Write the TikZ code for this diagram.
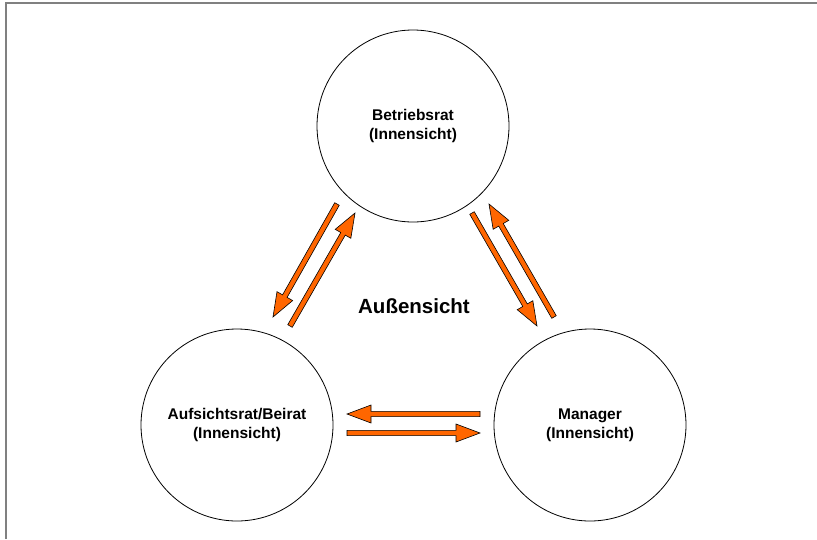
\documentclass[tikz,border=0pt]{standalone}
\usepackage{fontspec}
\setmainfont{Liberation Sans}
\usetikzlibrary{calc}
\definecolor{arroworange}{RGB}{255,102,0}
\newcommand\blockarrow[3]{%
  \coordinate (#1h) at ($(#3)!24pt!(#2)$);
  \filldraw[barrow]
    ($(#2)!2.6pt!90:(#3)$) -- ($(#1h)!2.6pt!90:(#3)$) -- ($(#1h)!9pt!90:(#3)$) --
    (#3) -- ($(#1h)!9pt!-90:(#3)$) -- ($(#1h)!2.6pt!-90:(#3)$) --
    ($(#2)!2.6pt!-90:(#3)$) -- cycle;}
\begin{document}
\begin{tikzpicture}[x=1pt,y=-1pt,
  circ/.style={circle, draw=black, line width=0.8pt, fill=white, minimum size=192pt,
    inner sep=0pt, align=center, font=\fontsize{15.5}{19}\selectfont\bfseries},
  barrow/.style={fill=arroworange, draw=black, line width=0.6pt, line join=miter},
  frameline/.style={draw=gray, line width=1.3pt}]
\useasboundingbox (0,0) rectangle (817,539);
\draw[frameline] (6,539) -- (6,3) -- (817,3);

\node[circ] (br) at (413,126) {Betriebsrat\\(Innensicht)};
\node[circ] (ar) at (237,425) {Aufsichtsrat/Beirat\\(Innensicht)};
\node[circ] (mg) at (590,425) {Manager\\(Innensicht)};
\node[font=\fontsize{20.5}{24}\selectfont\bfseries] (au) at (414,306) {Außensicht};

\coordinate (a1s) at (337,204); \coordinate (a1e) at (273,317);
\coordinate (a2s) at (290,326); \coordinate (a2e) at (355,213);
\coordinate (a3s) at (472,213); \coordinate (a3e) at (537,326);
\coordinate (a4s) at (554,317); \coordinate (a4e) at (489,204);
\coordinate (a5s) at (480,414); \coordinate (a5e) at (347,414);
\coordinate (a6s) at (347,433); \coordinate (a6e) at (480,433);

\blockarrow{a1}{a1s}{a1e}
\blockarrow{a2}{a2s}{a2e}
\blockarrow{a3}{a3s}{a3e}
\blockarrow{a4}{a4s}{a4e}
\blockarrow{a5}{a5s}{a5e}
\blockarrow{a6}{a6s}{a6e}
\end{tikzpicture}
\end{document}
